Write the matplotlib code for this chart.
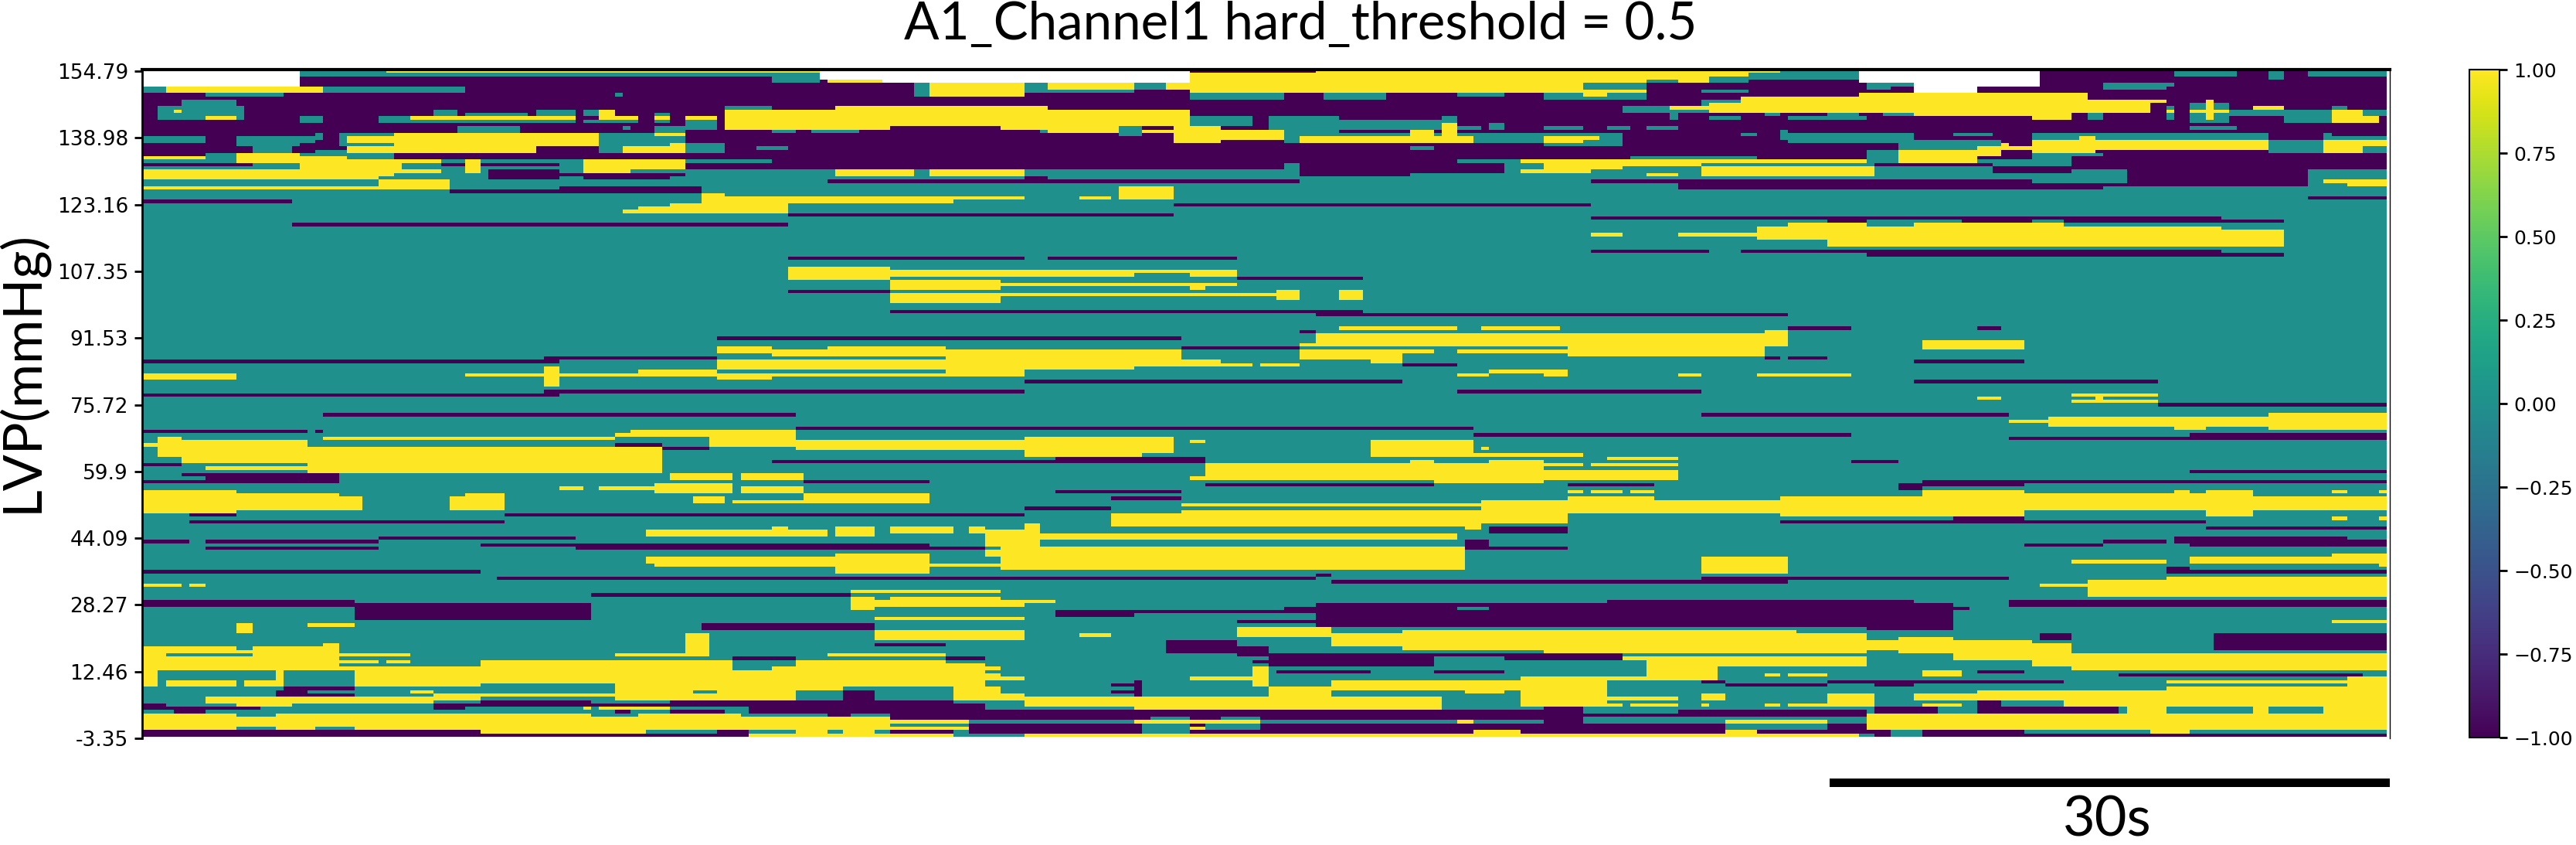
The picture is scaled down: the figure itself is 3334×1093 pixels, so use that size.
import numpy as np
import matplotlib
matplotlib.use('Agg')
import matplotlib.pyplot as plt
from matplotlib.patches import Rectangle

# pressure labels, one every 20 bins
pressure_labels = ['154.79', '138.98', '123.16', '107.35', '91.53', '75.72', '59.9', '44.09', '28.27', '12.46', '-3.35']
cbar_ticks = [-1.0, -0.75, -0.5, -0.25, 0.0, 0.25, 0.5, 0.75, 1.0]

n_rows = 200
n_cols = 285

# runs: (first bin, last bin + 1, first time step, last time step + 1)
missing_runs = [(0, 5, 0, 20), (0, 3, 86, 94), (0, 4, 94, 133), (0, 4, 218, 225), (0, 7, 225, 233), (0, 5, 233, 241)]

low_runs = [
    (2, 27, 0, 285), (27, 30, 80, 173), (30, 32, 147, 161), (30, 31, 161, 173), (0, 1, 133, 149), (0, 4, 241, 285),
    (28, 29, 0, 14), (28, 29, 38, 41), (28, 29, 43, 53), (28, 30, 67, 80), (30, 33, 44, 53), (31, 32, 53, 69), (32, 33, 56, 67),
    (35, 36, 53, 71), (36, 37, 39, 44), (36, 37, 44, 71), (39, 40, 0, 19), (46, 47, 19, 82),
    (27, 30, 245, 285), (30, 34, 252, 275), (29, 31, 235, 245), (28, 29, 220, 235), (33, 34, 184, 240), (34, 36, 195, 249), (34, 35, 249, 275),
    (38, 39, 275, 285), (40, 41, 131, 184), (43, 44, 82, 131), (44, 45, 184, 264), (45, 46, 214, 219), (45, 46, 231, 240),
    (45, 46, 244, 264), (45, 46, 264, 272), (54, 55, 184, 199), (54, 55, 203, 264), (55, 56, 219, 264), (55, 56, 264, 272),
    (56, 57, 82, 112), (56, 57, 115, 139), (62, 63, 139, 155), (66, 67, 82, 95), (33, 34, 87, 147), (32, 33, 112, 115),
    (72, 73, 95, 155), (73, 74, 149, 209), (72, 74, 149, 155), (77, 78, 209, 217), (77, 78, 233, 236), (78, 79, 147, 149),
    (80, 81, 73, 132), (83, 84, 132, 147), (86, 87, 51, 73), (87, 88, 0, 53), (86, 87, 206, 208), (86, 87, 209, 214), (87, 88, 225, 239),
    (88, 89, 160, 167), (93, 94, 112, 160), (93, 94, 225, 256), (96, 97, 51, 112), (97, 98, 0, 53), (96, 97, 167, 198),
    (100, 101, 256, 285), (103, 104, 23, 83), (103, 104, 198, 237), (107, 108, 83, 169), (108, 109, 0, 21), (108, 109, 22, 23),
    (109, 110, 169, 217), (110, 111, 237, 260), (109, 111, 260, 285), (112, 113, 60, 66), (113, 114, 65, 72),
    (117, 118, 80, 116), (116, 118, 116, 135), (117, 118, 217, 223), (118, 119, 0, 5), (120, 121, 260, 285),
    (121, 122, 5, 8), (121, 124, 8, 25), (123, 124, 0, 8), (123, 124, 84, 100), (123, 124, 226, 285), (123, 125, 226, 239),
    (124, 126, 223, 226), (124, 125, 135, 164), (124, 125, 181, 192), (126, 127, 116, 132), (128, 129, 123, 132),
    (131, 132, 112, 123), (133, 134, 6, 12), (133, 134, 46, 112), (135, 136, 6, 46), (135, 136, 208, 262), (134, 136, 230, 239),
    (137, 138, 262, 285), (137, 139, 171, 181),
    (140, 141, 30, 55), (140, 142, 258, 280), (141, 142, 0, 6), (141, 142, 8, 30), (141, 142, 249, 257), (142, 143, 43, 55),
    (142, 143, 239, 249), (141, 143, 260, 285), (142, 144, 55, 100), (143, 144, 8, 30), (143, 144, 100, 107), (141, 144, 168, 171),
    (143, 144, 171, 181), (149, 151, 257, 260), (150, 151, 0, 43), (150, 151, 260, 285), (151, 152, 149, 151),
    (152, 153, 45, 88), (152, 153, 88, 149), (153, 154, 151, 198), (152, 154, 198, 209), (152, 153, 209, 237),
    (157, 158, 57, 90), (159, 161, 0, 27), (160, 165, 27, 57), (162, 164, 116, 126), (162, 163, 126, 145), (161, 163, 145, 149),
    (160, 167, 149, 230), (167, 168, 219, 230), (159, 160, 186, 225), (159, 161, 237, 285), (161, 162, 230, 232), (165, 166, 139, 151),
    (166, 168, 80, 93), (166, 168, 71, 80), (172, 173, 93, 102), (171, 175, 130, 139), (173, 176, 139, 143), (175, 179, 143, 164),
    (177, 178, 141, 143), (175, 176, 164, 173), (175, 177, 173, 188), (176, 177, 75, 83), (176, 177, 102, 107), (169, 174, 263, 285),
    (169, 171, 241, 245), (180, 181, 144, 156), (180, 181, 164, 173), (180, 181, 233, 239), (181, 182, 251, 282),
    (185, 186, 18, 27), (187, 188, 17, 27), (186, 188, 17, 21), (183, 184, 214, 244), (184, 185, 201, 214), (184, 185, 220, 225), (183, 184, 198, 201),
    (184, 185, 123, 127), (186, 187, 123, 127), (183, 189, 126, 127), (186, 190, 89, 93),
    (190, 192, 0, 8), (192, 193, 4, 8), (191, 192, 8, 15), (189, 193, 80, 103), (193, 194, 87, 90), (190, 193, 103, 107),
    (190, 192, 37, 41), (189, 191, 43, 57), (190, 191, 41, 80), (189, 191, 67, 80), (191, 193, 77, 80), (192, 193, 45, 46),
    (192, 193, 57, 62), (192, 193, 67, 74), (193, 195, 95, 178), (192, 193, 107, 178), (193, 194, 178, 195), (192, 194, 195, 219),
    (189, 193, 233, 236), (191, 193, 220, 228), (191, 193, 236, 251), (191, 193, 178, 183), (192, 198, 178, 183),
    (196, 199, 105, 178), (196, 199, 178, 201), (196, 199, 214, 220), (198, 199, 95, 103), (198, 199, 205, 220),
    (198, 200, 0, 44), (199, 200, 44, 77), (198, 200, 73, 77), (198, 199, 133, 168), (198, 200, 220, 222), (199, 200, 226, 285), (198, 200, 226, 239),
]

# zero-valued holes cut into the low runs above
mid_runs = [
    (5, 7, 0, 3), (5, 7, 23, 41), (7, 8, 8, 18), (7, 8, 60, 61), (9, 11, 5, 12), (11, 15, 2, 13),
    (12, 14, 37, 40), (13, 14, 41, 49), (12, 14, 50, 55), (12, 14, 56, 58), (13, 16, 65, 67), (14, 16, 20, 23), (14, 16, 30, 55),
    (15, 16, 56, 63), (11, 13, 74, 80), (15, 18, 69, 73), (17, 19, 40, 48), (17, 18, 61, 62), (17, 19, 65, 69),
    (19, 21, 22, 23), (20, 22, 0, 8), (20, 22, 12, 22), (22, 25, 14, 19), (21, 23, 12, 20), (24, 25, 22, 26), (19, 23, 25, 33),
    (19, 25, 58, 69), (22, 25, 69, 74), (23, 24, 78, 80), (25, 27, 8, 12), (25, 26, 20, 32), (26, 27, 20, 32),
    (1, 4, 80, 86), (4, 8, 98, 100), (4, 7, 112, 115), (4, 6, 126, 130), (6, 7, 115, 126), (7, 9, 133, 145), (7, 9, 150, 158),
    (7, 8, 167, 173), (11, 12, 88, 93), (11, 12, 109, 112), (17, 18, 80, 83), (18, 19, 80, 83), (18, 19, 85, 91), (16, 17, 95, 109),
    (17, 18, 109, 114), (18, 19, 114, 124), (17, 20, 124, 127), (19, 22, 145, 178), (23, 24, 161, 164), (14, 17, 133, 141),
    (14, 19, 143, 152), (15, 18, 152, 165), (14, 17, 165, 167), (17, 18, 167, 170), (16, 18, 171, 173), (23, 24, 80, 82),
    (27, 28, 167, 175), (28, 30, 175, 178), (28, 32, 145, 147), (19, 23, 178, 188),
    (0, 2, 80, 86), (1, 4, 191, 198), (2, 4, 199, 204), (1, 3, 204, 208), (0, 3, 208, 218), (4, 6, 183, 191), (6, 7, 198, 204),
    (7, 9, 178, 191), (9, 12, 198, 203), (4, 5, 219, 225), (5, 6, 219, 222), (0, 2, 258, 266), (0, 3, 270, 272), (0, 2, 275, 285),
    (4, 6, 249, 257), (4, 5, 257, 258), (11, 13, 188, 199), (12, 15, 194, 195), (14, 15, 199, 203), (14, 15, 209, 219), (13, 14, 214, 218),
    (13, 14, 206, 208), (13, 14, 221, 225), (13, 15, 247, 249), (11, 15, 257, 258), (10, 16, 260, 265), (12, 14, 265, 272),
    (12, 16, 272, 278), (11, 12, 278, 280), (12, 14, 282, 285), (17, 18, 178, 183), (17, 18, 186, 189), (17, 18, 191, 195),
    (17, 18, 260, 266), (19, 20, 203, 205), (18, 21, 208, 209), (19, 22, 209, 225), (21, 24, 223, 236), (19, 20, 230, 235),
    (19, 21, 240, 270), (19, 21, 277, 278), (20, 21, 278, 285), (21, 25, 270, 277), (22, 25, 282, 285), (24, 27, 219, 223),
    (25, 28, 240, 245), (25, 26, 245, 249), (26, 27, 189, 205), (28, 29, 198, 209), (28, 29, 186, 188), (30, 33, 245, 252),
    (30, 31, 184, 192), (29, 32, 220, 235), (31, 34, 178, 184), (33, 34, 240, 252), (30, 36, 275, 285),
    (141, 142, 114, 167), (147, 148, 84, 85), (147, 148, 112, 126), (147, 148, 147, 154), (146, 150, 149, 151),
    (161, 162, 167, 171), (195, 196, 105, 109), (195, 196, 112, 126), (194, 195, 128, 133), (194, 195, 137, 142), (196, 199, 127, 133),
    (196, 198, 135, 142), (195, 196, 142, 150), (195, 196, 153, 161), (195, 196, 164, 175), (195, 196, 184, 188), (195, 196, 189, 198),
    (196, 198, 201, 214), (198, 200, 222, 226), (198, 199, 239, 243), (198, 199, 246, 285), (198, 199, 64, 73), (198, 199, 80, 83),
    (190, 191, 3, 6), (190, 191, 6, 8), (192, 193, 20, 60), (192, 193, 64, 67), (192, 193, 74, 77),
]

high_runs = [
    (5, 7, 3, 23), (0, 1, 31, 86), (0, 1, 149, 208), (1, 7, 133, 178), (3, 4, 87, 94), (4, 8, 100, 112), (4, 6, 115, 126), (4, 6, 130, 133),
    (1, 7, 178, 183), (1, 6, 178, 183), (6, 7, 183, 191), (7, 8, 183, 186), (1, 4, 183, 191), (1, 3, 191, 195), (1, 4, 195, 199), (1, 2, 199, 204),
    (12, 15, 58, 60), (14, 15, 34, 55), (14, 15, 60, 63), (14, 15, 65, 67), (14, 15, 69, 73), (12, 13, 4, 5), (14, 15, 8, 12), (12, 18, 74, 80),
    (12, 18, 80, 88), (11, 18, 88, 95), (11, 17, 95, 109), (11, 18, 109, 115), (12, 19, 115, 124), (12, 17, 124, 133),
    (20, 22, 26, 32), (23, 25, 26, 32), (19, 25, 32, 50), (19, 23, 50, 58), (23, 25, 48, 50), (19, 20, 65, 69), (23, 25, 61, 69), (22, 25, 67, 69),
    (18, 19, 127, 131), (17, 22, 131, 137), (18, 21, 137, 145), (20, 22, 147, 169), (18, 22, 161, 164), (16, 22, 165, 167),
    (25, 27, 12, 20), (26, 27, 0, 8), (26, 28, 20, 26), (27, 28, 12, 38), (27, 29, 41, 43), (27, 30, 56, 69), (28, 30, 20, 33), (28, 29, 56, 67),
    (29, 31, 41, 43), (30, 32, 0, 32), (32, 33, 0, 30), (33, 36, 30, 39), (35, 36, 0, 39), (30, 31, 32, 38), (30, 31, 56, 62),
    (37, 43, 71, 74), (38, 43, 74, 80), (38, 43, 80, 82), (40, 43, 67, 71), (41, 43, 63, 67), (42, 43, 61, 63), (39, 40, 80, 103), (38, 39, 80, 112),
    (38, 39, 119, 123), (35, 39, 124, 131), (27, 28, 175, 178), (30, 31, 175, 178), (27, 31, 178, 184), (27, 30, 184, 188), (27, 29, 188, 198),
    (27, 28, 198, 219), (30, 32, 198, 220), (29, 30, 198, 220), (31, 32, 191, 195), (33, 34, 277, 280), (33, 35, 280, 285),
    (20, 22, 178, 183), (20, 21, 183, 185), (11, 12, 194, 199), (10, 13, 199, 203), (8, 13, 203, 218), (7, 13, 218, 225), (7, 14, 225, 240),
    (7, 15, 240, 245), (7, 13, 245, 247), (9, 13, 247, 255), (9, 10, 255, 257), (12, 13, 257, 258), (9, 15, 262, 263), (12, 13, 260, 265),
    (11, 12, 268, 272), (12, 16, 278, 282), (14, 16, 282, 284),
    (21, 25, 240, 248), (20, 21, 246, 248), (21, 23, 248, 265), (23, 24, 248, 265), (21, 24, 265, 270), (21, 25, 277, 282), (21, 23, 282, 285),
    (24, 28, 223, 233), (23, 26, 233, 236), (22, 24, 236, 237), (23, 24, 237, 240),
    (47, 51, 205, 214), (47, 53, 214, 264), (46, 47, 209, 219), (46, 47, 225, 244), (48, 53, 264, 272), (49, 50, 184, 188), (49, 50, 195, 205),
    (59, 63, 82, 95), (60, 62, 95, 126), (60, 61, 126, 133), (60, 62, 133, 139), (63, 66, 95, 109), (64, 65, 109, 139), (65, 66, 133, 135),
    (67, 70, 95, 109), (67, 68, 109, 144), (66, 69, 144, 147), (66, 69, 152, 155), (30, 32, 88, 98), (30, 32, 100, 112),
    (77, 78, 152, 167), (77, 78, 170, 180), (79, 83, 149, 181), (78, 83, 206, 209), (79, 86, 181, 206), (84, 85, 178, 181), (82, 83, 147, 149),
    (83, 85, 73, 80), (83, 84, 87, 102), (84, 86, 80, 102), (87, 90, 73, 126), (84, 92, 102, 112), (84, 90, 112, 126), (84, 89, 126, 132),
    (91, 92, 80, 102), (84, 87, 147, 156), (84, 88, 156, 160), (84, 85, 160, 164), (84, 85, 167, 178), (87, 89, 132, 137), (88, 89, 137, 141), (88, 89, 142, 147),
    (81, 84, 226, 239), (91, 93, 0, 12), (91, 92, 41, 63), (89, 95, 51, 53), (90, 92, 63, 73), (91, 93, 73, 80), (90, 91, 171, 181), (91, 92, 167, 171),
    (90, 92, 178, 181), (91, 92, 195, 198), (91, 92, 205, 217), (97, 98, 245, 256), (99, 100, 245, 256), (98, 99, 233, 236), (98, 99, 248, 249),
    (105, 106, 237, 242), (104, 107, 242, 270), (107, 108, 258, 262), (103, 108, 270, 285),
    (108, 110, 62, 72), (109, 110, 60, 62), (108, 113, 72, 80), (110, 111, 23, 60), (110, 116, 2, 5), (111, 118, 5, 21), (112, 113, 0, 2), (113, 121, 21, 66),
    (119, 120, 8, 21), (108, 113, 80, 83), (111, 114, 83, 112), (110, 116, 112, 127), (110, 115, 127, 131), (111, 112, 133, 135), (111, 116, 156, 169),
    (113, 114, 170, 171), (115, 116, 169, 183), (116, 117, 186, 195), (118, 119, 178, 183), (118, 119, 184, 195), (120, 123, 178, 195),
    (118, 123, 135, 178), (123, 124, 164, 178), (117, 118, 161, 164), (117, 118, 171, 178), (122, 123, 133, 135),
    (121, 123, 67, 75), (121, 123, 76, 84), (125, 126, 53, 56), (125, 126, 58, 65), (124, 127, 65, 75), (125, 127, 76, 84), (128, 130, 70, 74), (129, 130, 75, 88),
    (127, 130, 84, 100), (126, 133, 0, 12), (127, 132, 12, 25), (128, 132, 25, 28), (128, 132, 39, 41), (127, 132, 41, 46),
    (130, 131, 132, 170), (129, 136, 170, 178), (132, 137, 132, 170), (133, 137, 123, 132), (137, 138, 168, 170),
    (126, 127, 181, 183), (126, 127, 184, 188), (126, 127, 189, 192), (126, 127, 278, 280), (126, 127, 284, 285), (134, 135, 278, 280), (134, 135, 284, 285),
    (129, 136, 178, 181), (128, 133, 181, 192), (129, 133, 192, 208), (128, 134, 208, 226), (126, 134, 226, 239), (127, 132, 239, 262), (126, 134, 262, 268),
    (126, 127, 258, 260), (128, 132, 268, 285),
    (137, 139, 80, 82), (138, 139, 82, 87), (137, 139, 88, 93), (137, 139, 95, 103), (137, 139, 105, 107), (136, 139, 112, 114), (138, 139, 107, 112),
    (139, 140, 80, 87), (139, 140, 88, 93), (138, 140, 64, 80), (139, 141, 107, 167), (141, 143, 107, 114), (143, 150, 109, 168),
    (144, 146, 107, 109), (146, 149, 80, 88), (145, 151, 88, 100), (148, 149, 100, 109), (146, 148, 64, 70), (146, 149, 70, 80), (148, 149, 65, 70),
    (146, 151, 198, 209), (147, 148, 245, 257), (146, 148, 260, 285), (145, 146, 278, 285), (148, 149, 284, 285),
    (154, 155, 0, 5), (154, 155, 6, 8), (154, 155, 241, 247), (153, 158, 247, 257), (152, 158, 257, 285),
    (156, 157, 90, 109), (158, 162, 90, 93), (159, 161, 93, 95), (158, 161, 95, 109), (159, 160, 109, 116), (160, 161, 109, 112), (164, 165, 93, 112),
    (165, 166, 278, 285), (166, 167, 21, 27), (166, 169, 12, 14), (168, 171, 93, 112), (169, 170, 119, 123),
    (167, 170, 139, 151), (169, 173, 151, 160), (168, 174, 160, 178), (168, 175, 178, 210), (169, 175, 210, 219), (171, 174, 219, 223), (170, 175, 223, 230),
    (171, 177, 230, 240), (172, 179, 240, 245), (175, 180, 245, 285), (169, 176, 69, 72), (175, 176, 60, 69),
    (173, 180, 0, 25), (172, 173, 23, 25), (175, 176, 25, 34), (177, 178, 25, 30), (177, 178, 31, 34), (179, 180, 25, 46), (177, 180, 43, 75),
    (175, 176, 87, 102), (177, 185, 83, 102), (178, 185, 102, 107), (179, 187, 80, 83), (179, 186, 83, 89), (179, 180, 107, 109), (181, 182, 107, 109),
    (182, 183, 107, 112), (185, 187, 103, 109), (176, 177, 188, 219), (177, 183, 191, 200), (177, 179, 200, 219),
    (180, 185, 0, 2), (183, 185, 3, 12), (183, 185, 13, 17), (180, 185, 17, 18), (180, 185, 27, 80), (180, 185, 80, 83), (185, 189, 60, 80),
    (185, 189, 80, 83), (186, 187, 34, 37), (188, 190, 8, 37), (187, 189, 37, 43), (187, 188, 43, 60),
    (190, 191, 12, 19), (191, 192, 56, 57), (191, 192, 58, 67),
    (187, 189, 103, 112), (188, 191, 112, 126), (188, 192, 126, 165), (185, 189, 143, 151), (179, 184, 141, 143), (182, 183, 133, 141), (184, 185, 141, 143),
    (183, 186, 151, 168), (183, 187, 168, 175), (182, 191, 175, 186), (182, 183, 186, 198), (183, 191, 178, 183), (188, 189, 183, 195), (187, 189, 198, 201),
    (190, 191, 186, 188), (190, 191, 189, 195), (190, 191, 198, 199), (190, 191, 206, 208), (190, 191, 209, 214), (187, 191, 214, 220), (187, 189, 225, 233),
    (190, 191, 226, 231), (186, 189, 233, 244), (186, 191, 244, 285), (180, 182, 226, 231), (181, 182, 206, 208), (181, 182, 209, 214),
    (183, 184, 257, 280), (185, 186, 257, 280), (182, 186, 280, 285), (191, 193, 252, 257), (191, 193, 268, 270), (191, 193, 277, 285), (193, 198, 219, 285),
    (193, 198, 0, 80), (198, 199, 43, 64), (194, 198, 80, 95), (198, 199, 83, 87), (198, 199, 89, 93), (195, 196, 95, 105), (197, 198, 95, 105),
    (195, 196, 126, 142), (197, 198, 133, 135), (195, 196, 167, 169), (195, 196, 201, 214), (199, 200, 77, 103), (199, 200, 112, 178), (198, 200, 169, 175),
    (199, 200, 178, 201), (198, 200, 201, 205), (199, 200, 205, 218), (198, 199, 255, 260),
]

# bits of the high band that dip back to zero
mid_over_high = [
    (173, 174, 12, 14), (175, 176, 3, 14), (177, 178, 30, 31), (193, 194, 12, 17), (197, 198, 12, 17), (197, 198, 22, 27),
    (193, 194, 57, 63), (193, 194, 76, 80), (180, 183, 2, 17), (184, 185, 2, 3), (180, 185, 18, 27), (184, 185, 43, 60),
    (128, 129, 56, 59), (186, 187, 70, 73), (186, 187, 173, 175),
]

cmat = np.zeros((n_rows, n_cols))
for runs, val in [(low_runs, -1.0), (mid_runs, 0.0), (high_runs, 1.0), (mid_over_high, 0.0), (missing_runs, np.nan)]:
    for r0, r1, c0, c1 in runs:
        cmat[r0:r1, c0:c1] = val

plt.rcParams['font.family'] = ['DejaVu Sans']

W, H = 3334, 1093
fig = plt.figure(figsize=(W / 100, H / 100), dpi=100)
# 184..3093 x, 90..955 y in the reference
ax = fig.add_axes([184 / W, 1 - 955 / H, (3093 - 184) / W, (955 - 90) / H])

cmap = plt.get_cmap('viridis').copy()
cmap.set_bad('white')
im = ax.imshow(cmat, aspect='auto', cmap=cmap, vmin=-1, vmax=1, interpolation='nearest',
               extent=(0, n_cols, n_rows - 0.5, -0.5))
ax.set_xlim(0, n_cols + 0.4)
ax.set_ylim(200, -0.5)
ax.set_xticks([])
ax.set_yticks(np.arange(0, 201, 20))
ax.set_yticklabels(pressure_labels)
ax.tick_params(axis='y', labelsize=19, length=7, width=2, pad=6)
ax.spines['left'].set_linewidth(2)
ax.spines['bottom'].set_visible(False)
ax.spines['right'].set_linewidth(1)
ax.spines['top'].set_linewidth(3)

ax.set_title('A1_Channel1 hard_threshold = 0.5', fontsize=48.5, family='Lato', pad=28, x=0.5155)
ax.set_ylabel('LVP(mmHg)', fontsize=50, family='Lato')
ax.yaxis.set_label_coords(-0.0425, 0.548, transform=ax.transAxes)

# scale bar for 30 s
fig.add_artist(Rectangle((2368 / W, 1 - 1018 / H), (3093 - 2368) / W, 11 / H, color='black', lw=0,
                         transform=fig.transFigure))
fig.text(2727 / W, 1 - 1061 / H, '30s', fontsize=52, family='Lato', ha='center', va='center')

cax = fig.add_axes([3196 / W, 1 - 954 / H, (3235 - 3196) / W, (954 - 90) / H])
cb = fig.colorbar(im, cax=cax)
cb.set_ticks(cbar_ticks)
cb.set_ticklabels(['\u2212' + f'{abs(t):.2f}' if t < 0 else f'{t:.2f}' for t in cbar_ticks])
cb.ax.tick_params(labelsize=18, length=7, width=2, pad=6)
cb.outline.set_linewidth(1.5)

fig.savefig('out.png', dpi=100)
